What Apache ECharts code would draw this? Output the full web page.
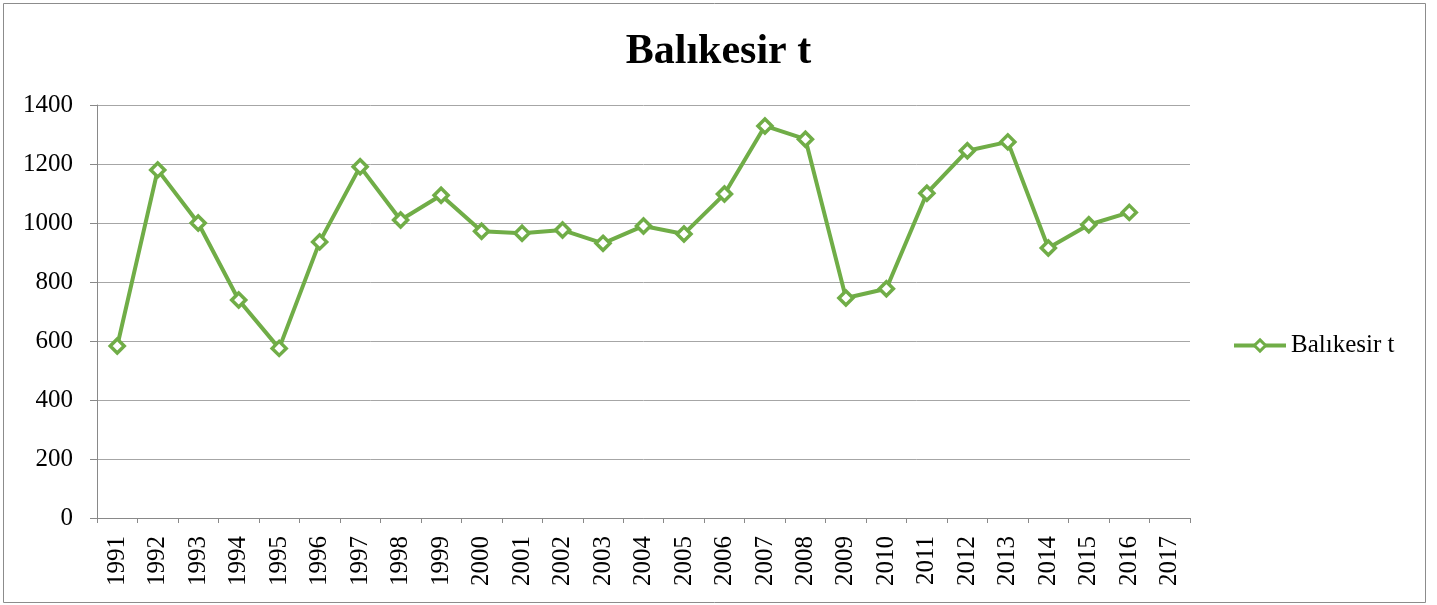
<!DOCTYPE html>
<html>
<head>
<meta charset="utf-8">
<script src="https://cdn.jsdelivr.net/npm/echarts@6/dist/echarts.min.js"></script>
<style>
  html, body { margin: 0; padding: 0; background: #fff; }
  #chart { width: 1437px; height: 605px; }
</style>
</head>
<body>
<div id="chart"></div>
<script>
// Yearly series for Balıkesir
const years = ['1991','1992','1993','1994','1995','1996','1997','1998','1999','2000',
  '2001','2002','2003','2004','2005','2006','2007','2008','2009','2010',
  '2011','2012','2013','2014','2015','2016','2017'];
const values = [583, 1180, 1000, 739, 575, 936, 1191, 1010, 1094, 972,
  965, 976, 931, 990, 963, 1098, 1329, 1284, 746, 777,
  1101, 1245, 1275, 915, 994, 1036, null];
const seriesName = 'Balıkesir t';
const yTicks = { min: 0, max: 1400, step: 200 };

const serif = '"Liberation Serif", "Times New Roman", serif';
const green = '#70ad47';
const axisGray = '#898989';

const chart = echarts.init(document.getElementById('chart'));
chart.setOption({
  backgroundColor: '#fff',
  animation: false,
  title: {
    text: seriesName,
    left: 'center',
    top: 26,
    textStyle: { fontFamily: serif, fontSize: 42, fontWeight: 'bold', color: '#000' }
  },
  legend: {
    left: 1227,
    top: 328,
    orient: 'vertical',
    itemWidth: 52,
    itemHeight: 14,
    itemGap: 6,
    lineStyle: { width: 4 },
    itemStyle: { borderWidth: 3 },
    textStyle: { fontFamily: serif, fontSize: 25, color: '#000' },
    data: [seriesName]
  },
  graphic: [{
    type: 'rect',
    shape: { x: 3.5, y: 3.5, width: 1422, height: 599 },
    style: { fill: 'none', stroke: '#8c8c8c', lineWidth: 1 },
    silent: true,
    z: -1
  }],
  grid: { left: 97, right: 247, top: 105, bottom: 87, containLabel: false },
  xAxis: {
    type: 'category',
    data: years,
    boundaryGap: true,
    axisLine: { lineStyle: { color: axisGray, width: 1 } },
    axisTick: { show: true, length: 5, alignWithLabel: false, lineStyle: { color: axisGray } },
    axisLabel: {
      rotate: 90,
      margin: 18,
      interval: 0,
      fontFamily: serif,
      fontSize: 25,
      color: '#000'
    },
    splitLine: { show: false }
  },
  yAxis: {
    type: 'value',
    min: yTicks.min,
    max: yTicks.max,
    interval: yTicks.step,
    axisLine: { show: true, lineStyle: { color: axisGray, width: 1 } },
    axisTick: { show: true, length: 7, lineStyle: { color: axisGray } },
    axisLabel: {
      margin: 24,
      fontFamily: serif,
      fontSize: 25,
      color: '#000',
      formatter: (v) => String(v)
    },
    splitLine: { show: true, lineStyle: { color: '#a6a6a6', width: 1 } }
  },
  series: [{
    name: seriesName,
    type: 'line',
    data: values,
    connectNulls: false,
    symbol: 'diamond',
    symbolSize: 14,
    showAllSymbol: true,
    lineStyle: { color: green, width: 4 },
    itemStyle: { color: '#fff', borderColor: green, borderWidth: 3.5 }
  }]
});
</script>
</body>
</html>
